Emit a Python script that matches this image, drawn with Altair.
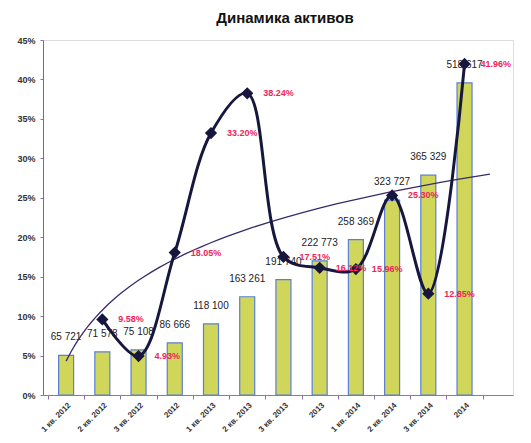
import altair as alt
import pandas as pd

categories = ["1 кв. 2012", "2 кв. 2012", "3 кв. 2012", "2012",
              "1 кв. 2013", "2 кв. 2013", "3 кв. 2013", "2013",
              "1 кв. 2014", "2 кв. 2014", "3 кв. 2014", "2014"]
assets = [65721, 71578, 75108, 86666, 118100, 163261, 191740,
          222773, 258369, 323727, 365329, 518617]
growth_pct = [None, 9.58, 4.93, 18.05, 33.20, 38.24, 17.51,
              16.12, 15.96, 25.30, 12.85, 41.96]

df = pd.DataFrame({
    "idx": list(range(1, len(categories) + 1)),
    "cat": categories,
    "assets": assets,
    "growth": growth_pct,
})

cat_js = "[" + ",".join("'" + c + "'" for c in categories) + "]"
tick_vals = [i + 0.5 for i in range(0, 13)]

x_axis = alt.Axis(
    values=tick_vals,
    labelExpr=f"datum.value < 12 ? {cat_js}[floor(datum.value)] : ''",
    labelOffset=18.5,
    labelAngle=-45,
    labelAlign="right",
    labelBaseline="top",
    labelFontSize=8,
    labelFontWeight="bold",
    labelColor="#333333",
    labelPadding=2,
    labelOverlap=False,
    labelBound=False,
    tickSize=4,
    tickColor="#8a6fa8",
    domainColor="#9a6fb0",
    grid=False,
    title=None,
    labelFont="Liberation Sans",
)
x_scale = alt.Scale(domain=[0.5, 13.2], nice=False, zero=False)
x_enc = alt.X("idx:Q", scale=x_scale, axis=x_axis)

base = alt.Chart(df)

bars = base.mark_bar(size=15, color="#cfd65a", stroke="#5b7fd6", strokeWidth=1.2).encode(
    x=x_enc,
    y=alt.Y("assets:Q", scale=alt.Scale(domain=[0, 590000]), axis=None),
)

bar_labels = base.transform_calculate(
    lbl="replace(format(datum.assets, ','), ',', ' ')"
).mark_text(
    dy=-18, fontSize=10, color="#222222", font="Liberation Sans", baseline="middle"
).encode(
    x=x_enc,
    y=alt.Y("assets:Q", scale=alt.Scale(domain=[0, 590000]), axis=None),
    text="lbl:N",
)

bar_layer = alt.layer(bars, bar_labels)

gbase = base.transform_filter("datum.growth != null").transform_calculate(
    g="datum.growth / 100"
)

y_pct = alt.Y(
    "g:Q",
    scale=alt.Scale(domain=[0, 0.45], nice=False),
    axis=alt.Axis(
        values=[i * 0.05 for i in range(10)],
        format=".0%",
        labelFontSize=9,
        labelFontWeight="bold",
        labelColor="#333333",
        labelFont="Liberation Sans",
        tickSize=3,
        tickColor="#8a6fa8",
        domainColor="#8a5ab0",
        grid=False,
        title=None,
        labelPadding=5,
    ),
)

trend = gbase.transform_regression(
    "idx", "g", method="log", extent=[1, 12.7]
).mark_line(color="#3a2a6a", strokeWidth=1.3).encode(
    x=x_enc, y=y_pct
)

line = gbase.mark_line(color="#16163f", strokeWidth=3, interpolate="catmull-rom").encode(
    x=x_enc, y=y_pct
)

points = gbase.mark_point(shape="diamond", filled=True, size=150, color="#16163f", opacity=1).encode(
    x=x_enc, y=y_pct
)

pct_labels = gbase.transform_calculate(
    pl="format(datum.g, '.2%')"
).mark_text(
    dx=16, dy=0, align="left", baseline="middle", fontSize=9, fontWeight="bold",
    color="#f0245a", font="Liberation Sans"
).encode(x=x_enc, y=y_pct, text="pl:N")

line_layer = alt.layer(trend, line, points, pct_labels)

chart = alt.layer(bar_layer, line_layer).resolve_scale(y="independent").properties(
    width=470,
    height=355,
    title=alt.TitleParams(
        "Динамика активов", fontSize=15, fontWeight="bold",
        font="Liberation Sans", anchor="middle", offset=10, dx=7, color="#111111"
    ),
    autosize=alt.AutoSizeParams(type="none"),
    padding={"left": 35, "top": 32, "right": 10, "bottom": 48},
).configure_view(stroke=None).configure(background="white").configure_axisX(
    labelOverlap=False
)

chart.save("out.html", embed_options={"renderer": "svg", "actions": False})
